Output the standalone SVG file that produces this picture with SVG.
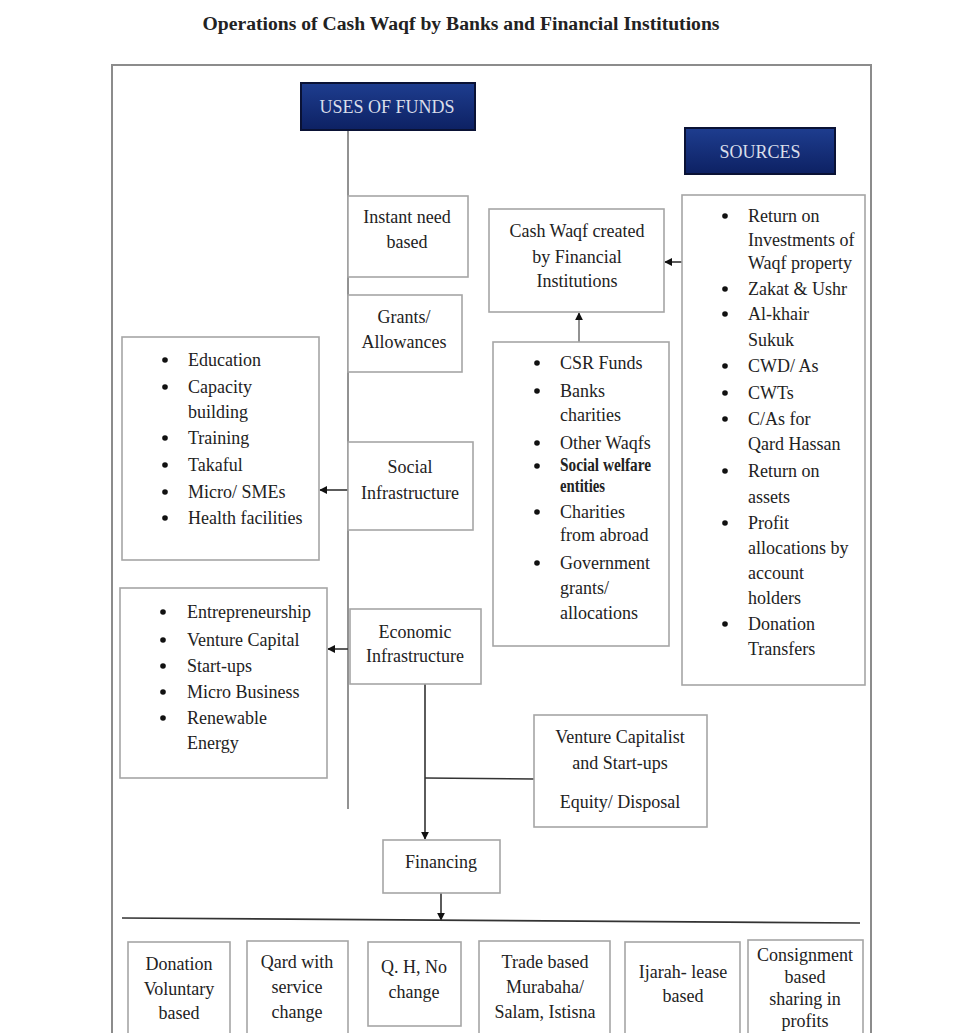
<svg xmlns="http://www.w3.org/2000/svg" width="979" height="1033" viewBox="0 0 979 1033">
<style>
text{font-family:"Liberation Serif","Times New Roman",serif;fill:#222;font-size:18px}
.c{text-anchor:middle}
.box{fill:#fff;stroke:#a6a6a6;stroke-width:1.6}
.nav{fill:url(#ng);stroke:#0a1235;stroke-width:2}
.navt{fill:#d9deea;font-size:18px;text-anchor:middle}
.ln{stroke:#333;stroke-width:1.6;fill:none}
.lg{stroke:#777;stroke-width:1.6;fill:none}
.b{fill:#111}
</style>
<defs>
<linearGradient id="ng" x1="0" y1="0" x2="0" y2="1">
<stop offset="0" stop-color="#1e3d8f"/>
<stop offset="1" stop-color="#0d2163"/>
</linearGradient>
<marker id="ah" viewBox="0 0 10 10" refX="9" refY="5" markerWidth="8" markerHeight="8" orient="auto" markerUnits="userSpaceOnUse">
<path d="M0,0 L10,5 L0,10 z" fill="#111"/>
</marker>
</defs>
<rect width="979" height="1033" fill="#fff"/>
<text x="461" y="30" class="c" font-weight="bold" font-size="30" fill="#1a1a1a" textLength="517" lengthAdjust="spacingAndGlyphs">Operations of Cash Waqf by Banks and Financial Institutions</text>
<rect x="112" y="65" width="759" height="980" fill="none" stroke="#8c8c8c" stroke-width="2"/>

<g id="connectors">
<line class="lg" x1="348" y1="130" x2="348" y2="809"/>
<line class="ln" x1="348" y1="490" x2="320" y2="490" marker-end="url(#ah)"/>
<line class="ln" x1="348" y1="649" x2="328" y2="649" marker-end="url(#ah)"/>
<line class="ln" x1="682" y1="262" x2="665" y2="262" marker-end="url(#ah)"/>
<line class="lg" x1="579" y1="342" x2="579" y2="313" marker-end="url(#ah)"/>
<line class="ln" x1="425" y1="684" x2="425" y2="839" marker-end="url(#ah)"/>
<line class="ln" x1="425" y1="778" x2="534" y2="779"/>
<line class="ln" x1="441" y1="893" x2="441" y2="920" marker-end="url(#ah)"/>
<line class="ln" x1="122" y1="918" x2="860" y2="923"/>
</g>

<g id="uses">
<rect class="nav" x="301" y="83" width="174" height="47"/>
<text class="navt" x="387" y="113">USES OF FUNDS</text>
</g>
<g id="sources-title">
<rect class="nav" x="685" y="128" width="150" height="46"/>
<text class="navt" x="760" y="158">SOURCES</text>
</g>

<g id="instant">
<rect class="box" x="348" y="196" width="120" height="81"/>
<text class="c" x="407" y="223">Instant need</text>
<text class="c" x="407" y="248">based</text>
</g>
<g id="grants">
<rect class="box" x="348" y="295" width="114" height="77"/>
<text class="c" x="404" y="323">Grants/</text>
<text class="c" x="404" y="348">Allowances</text>
</g>
<g id="social">
<rect class="box" x="348" y="442" width="125" height="88"/>
<text class="c" x="410" y="473">Social</text>
<text class="c" x="410" y="499">Infrastructure</text>
</g>
<g id="economic">
<rect class="box" x="350" y="609" width="131" height="75"/>
<text class="c" x="415" y="638">Economic</text>
<text class="c" x="415" y="662">Infrastructure</text>
</g>

<g id="social-list">
<rect class="box" x="122" y="337" width="197" height="223"/>
<circle class="b" cx="165" cy="360" r="2.8"/><text x="188" y="366">Education</text>
<circle class="b" cx="165" cy="387" r="2.8"/><text x="188" y="393">Capacity</text>
<text x="188" y="418">building</text>
<circle class="b" cx="165" cy="438" r="2.8"/><text x="188" y="444">Training</text>
<circle class="b" cx="165" cy="465" r="2.8"/><text x="188" y="471">Takaful</text>
<circle class="b" cx="165" cy="492" r="2.8"/><text x="188" y="498">Micro/ SMEs</text>
<circle class="b" cx="165" cy="518" r="2.8"/><text x="188" y="524">Health facilities</text>
</g>

<g id="economic-list">
<rect class="box" x="120" y="588" width="207" height="190"/>
<circle class="b" cx="163" cy="612" r="2.8"/><text x="187" y="618">Entrepreneurship</text>
<circle class="b" cx="163" cy="640" r="2.8"/><text x="187" y="646">Venture Capital</text>
<circle class="b" cx="163" cy="666" r="2.8"/><text x="187" y="672">Start-ups</text>
<circle class="b" cx="163" cy="692" r="2.8"/><text x="187" y="698">Micro Business</text>
<circle class="b" cx="163" cy="718" r="2.8"/><text x="187" y="724">Renewable</text>
<text x="187" y="749">Energy</text>
</g>

<g id="cash-waqf">
<rect class="box" x="489" y="209" width="175" height="103"/>
<text class="c" x="577" y="237">Cash Waqf created</text>
<text class="c" x="577" y="263">by Financial</text>
<text class="c" x="577" y="287">Institutions</text>
</g>

<g id="csr-list">
<rect class="box" x="493" y="342" width="176" height="304"/>
<circle class="b" cx="537" cy="363" r="2.8"/><text x="560" y="369">CSR Funds</text>
<circle class="b" cx="537" cy="391" r="2.8"/><text x="560" y="397">Banks</text>
<text x="560" y="421">charities</text>
<circle class="b" cx="537" cy="443" r="2.8"/><text x="560" y="449">Other Waqfs</text>
<circle class="b" cx="537" cy="466" r="2.8"/><text x="560" y="471" font-size="15" font-weight="bold" textLength="91" lengthAdjust="spacingAndGlyphs">Social welfare</text>
<text x="560" y="492" font-size="15" font-weight="bold" textLength="45" lengthAdjust="spacingAndGlyphs">entities</text>
<circle class="b" cx="537" cy="512" r="2.8"/><text x="560" y="518">Charities</text>
<text x="560" y="541">from abroad</text>
<circle class="b" cx="537" cy="563" r="2.8"/><text x="560" y="569">Government</text>
<text x="560" y="594">grants/</text>
<text x="560" y="619">allocations</text>
</g>

<g id="sources-list">
<rect class="box" x="682" y="195" width="183" height="490"/>
<circle class="b" cx="725" cy="216" r="2.8"/><text x="748" y="222">Return on</text>
<text x="748" y="246">Investments of</text>
<text x="748" y="269">Waqf property</text>
<circle class="b" cx="725" cy="289" r="2.8"/><text x="748" y="295">Zakat &amp; Ushr</text>
<circle class="b" cx="725" cy="314" r="2.8"/><text x="748" y="320">Al-khair</text>
<text x="748" y="346">Sukuk</text>
<circle class="b" cx="725" cy="366" r="2.8"/><text x="748" y="372">CWD/ As</text>
<circle class="b" cx="725" cy="393" r="2.8"/><text x="748" y="399">CWTs</text>
<circle class="b" cx="725" cy="419" r="2.8"/><text x="748" y="425">C/As for</text>
<text x="748" y="450">Qard Hassan</text>
<circle class="b" cx="725" cy="471" r="2.8"/><text x="748" y="477">Return on</text>
<text x="748" y="503">assets</text>
<circle class="b" cx="725" cy="523" r="2.8"/><text x="748" y="529">Profit</text>
<text x="748" y="554">allocations by</text>
<text x="748" y="579">account</text>
<text x="748" y="604">holders</text>
<circle class="b" cx="725" cy="624" r="2.8"/><text x="748" y="630">Donation</text>
<text x="748" y="655">Transfers</text>
</g>

<g id="venture">
<rect class="box" x="534" y="715" width="173" height="112"/>
<text class="c" x="620" y="743">Venture Capitalist</text>
<text class="c" x="620" y="769">and Start-ups</text>
<text class="c" x="620" y="808">Equity/ Disposal</text>
</g>
<g id="financing">
<rect class="box" x="383" y="840" width="117" height="53"/>
<text class="c" x="441" y="868">Financing</text>
</g>

<g id="donation">
<rect class="box" x="128" y="942" width="102" height="100"/>
<text class="c" x="179" y="970">Donation</text>
<text class="c" x="179" y="995">Voluntary</text>
<text class="c" x="179" y="1019">based</text>
</g>
<g id="qard">
<rect class="box" x="247" y="941" width="101" height="100"/>
<text class="c" x="297" y="968">Qard with</text>
<text class="c" x="297" y="993">service</text>
<text class="c" x="297" y="1018">change</text>
</g>
<g id="qh">
<rect class="box" x="368" y="942" width="93" height="84"/>
<text class="c" x="414" y="973">Q. H, No</text>
<text class="c" x="414" y="998">change</text>
</g>
<g id="trade">
<rect class="box" x="479" y="941" width="131" height="100"/>
<text class="c" x="545" y="968">Trade based</text>
<text class="c" x="545" y="993">Murabaha/</text>
<text class="c" x="545" y="1018">Salam, Istisna</text>
</g>
<g id="ijarah">
<rect class="box" x="625" y="942" width="115" height="100"/>
<text class="c" x="683" y="978">Ijarah- lease</text>
<text class="c" x="683" y="1002">based</text>
</g>
<g id="consignment">
<rect class="box" x="748" y="940" width="115" height="100"/>
<text class="c" x="805" y="961" font-size="16">Consignment</text>
<text class="c" x="805" y="983" font-size="16">based</text>
<text class="c" x="805" y="1005" font-size="16">sharing in</text>
<text class="c" x="805" y="1027" font-size="16">profits</text>
</g>
</svg>
